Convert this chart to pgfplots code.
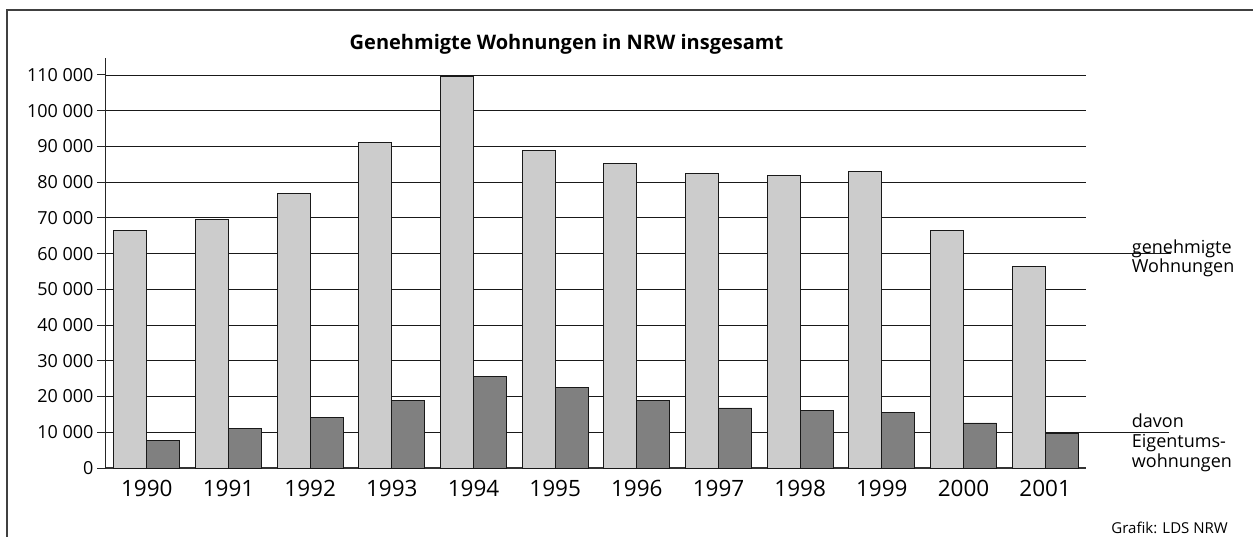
\documentclass[border=0pt]{standalone}
\usepackage{pgfplots}
\pgfplotsset{compat=1.18}
\usepackage{fontspec}
\setmainfont{Open Sans}
\definecolor{lightbar}{HTML}{CCCCCC}
\definecolor{darkbar}{HTML}{808080}
\begin{document}
\begin{tikzpicture}[x=1pt,y=1pt]
\useasboundingbox (0,0) rectangle (1253,536);
\draw[line width=1.2pt, color=black!75] (7,-2) -- (7,526) -- (1255,526);
\node[anchor=base, font=\fontsize{20}{24}\selectfont\bfseries, inner sep=0] at (566.5,486) {Genehmigte Wohnungen in NRW insgesamt};
\node[anchor=base east, font=\fontsize{15}{18}\selectfont, inner sep=0] at (1228,2.5) {Grafik: LDS NRW};
\begin{axis}[
  at={(106pt,68pt)}, anchor=south west,
  scale only axis, width=980pt, height=410pt,
  xmin=-0.5, xmax=11.5, ymin=0, ymax=114750,
  clip=false,
  axis x line=bottom, axis y line=left,
  axis line style={-},
  x axis line style={line width=2pt, draw=black!80},
  y axis line style={line width=1pt, draw=black!85},
  xtick={0,...,11},
  xticklabels={1990,1991,1992,1993,1994,1995,1996,1997,1998,1999,2000,2001},
  x tick style={draw=none},
  xticklabel style={font=\fontsize{22.5}{27}\selectfont},
  ytick={0,10000,20000,30000,40000,50000,60000,70000,80000,90000,100000,110000},
  yticklabels={0,10 000,20 000,30 000,40 000,50 000,60 000,70 000,80 000,90 000,100 000,110 000},
  scaled y ticks=false,
  tick align=outside,
  major tick length=9pt,
  y tick style={line width=1pt, draw=black!85},
  yticklabel style={font=\fontsize{18}{22}\selectfont},
  ymajorgrids,
  grid style={line width=0.9pt, draw=black!90},
]
\addplot[ybar, bar width=0.404, bar shift=-0.202, fill=lightbar, draw=black!90, line width=0.9pt]
  coordinates {(0,66500)(1,69600)(2,76900)(3,91200)(4,109700)(5,89000)(6,85300)(7,82500)(8,81900)(9,83000)(10,66600)(11,56500)};
\addplot[ybar, bar width=0.404, bar shift=0.202, fill=darkbar, draw=black!90, line width=0.9pt]
  coordinates {(0,7600)(1,11100)(2,14100)(3,19000)(4,25500)(5,22600)(6,19000)(7,16800)(8,16200)(9,15600)(10,12600)(11,9600)};
\draw[line width=0.9pt, draw=black!90] (axis cs:11.5,60000) -- ++(44pt,0);
\draw[line width=0.9pt, draw=black!90] (axis cs:11.5,10000) -- ++(42pt,0);
\node[anchor=base west, inner sep=0, font=\fontsize{18}{20}\selectfont] at ([xshift=45.7pt,yshift=0.6pt]axis cs:11.5,60000) {genehmigte};
\node[anchor=base west, inner sep=0, font=\fontsize{18}{20}\selectfont] at ([xshift=45.7pt,yshift=-18.4pt]axis cs:11.5,60000) {Wohnungen};
\node[anchor=base west, inner sep=0, font=\fontsize{18}{20}\selectfont] at ([xshift=45.7pt,yshift=4.3pt]axis cs:11.5,10000) {davon};
\node[anchor=base west, inner sep=0, font=\fontsize{18}{20}\selectfont] at ([xshift=45.7pt,yshift=-15.7pt]axis cs:11.5,10000) {Eigentums-};
\node[anchor=base west, inner sep=0, font=\fontsize{18}{20}\selectfont] at ([xshift=45.7pt,yshift=-35.7pt]axis cs:11.5,10000) {wohnungen};
\end{axis}
\end{tikzpicture}
\end{document}
